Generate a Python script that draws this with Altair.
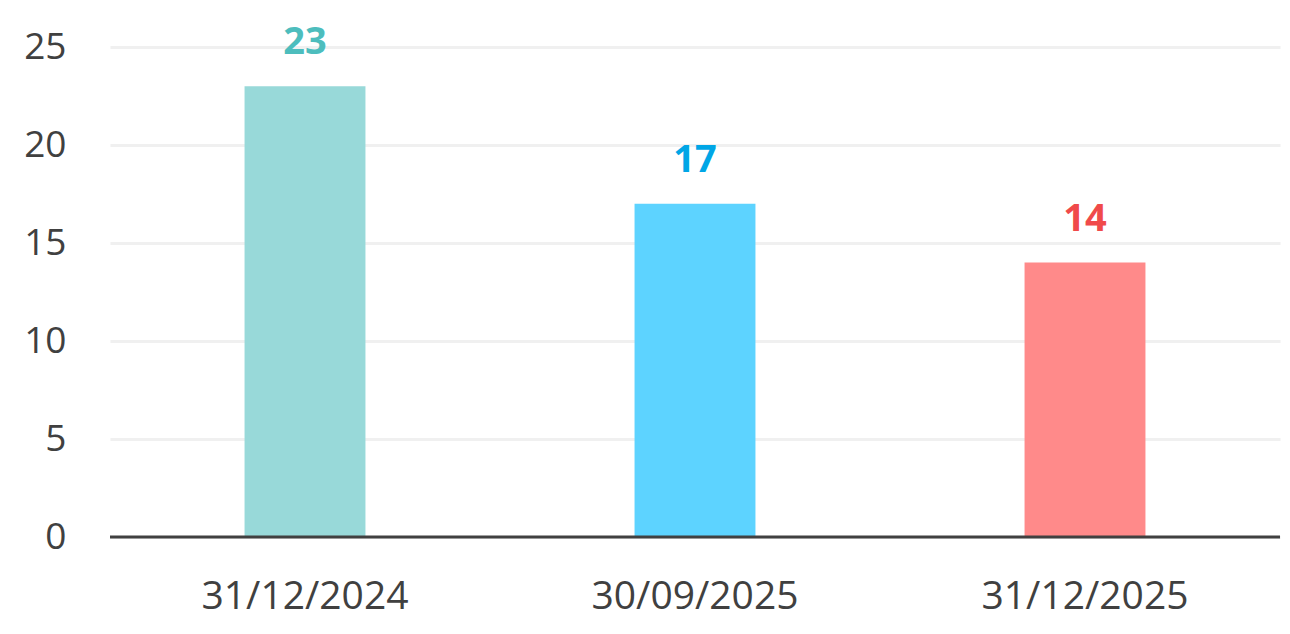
import altair as alt
import pandas as pd

dates = ["31/12/2024", "30/09/2025", "31/12/2025"]
values = [23, 17, 14]
bar_colors = ["#98d9d9", "#5dd3ff", "#ff8a8a"]
label_colors = ["#4dbdbd", "#00a6e6", "#f04a4a"]

df = pd.DataFrame({"date": dates, "value": values, "bar": bar_colors, "lab": label_colors})

x = alt.X("date:N", sort=dates, title=None,
          scale=alt.Scale(paddingInner=0.69, paddingOuter=0.345),
          axis=alt.Axis(labelAngle=0, labelFontSize=39, labelColor="#404040", labelFont="Open Sans",
                        labelPadding=40, labelLimit=0, ticks=False, domain=False))
y = alt.Y("value:Q", title=None, scale=alt.Scale(domain=[0, 25], nice=False),
          axis=alt.Axis(values=[0, 5, 10, 15, 20, 25], labelFontSize=37, labelColor="#404040",
                        labelFont="Open Sans", labelPadding=44, ticks=False, domain=False,
                        gridColor="#f0f0f0", gridWidth=3))

base = alt.Chart(df)
bars = base.mark_bar().encode(x=x, y=y, color=alt.Color("bar:N", scale=None))
text = base.mark_text(baseline="bottom", dy=-24, fontSize=38, fontWeight="bold", font="Open Sans").encode(
    x=alt.X("date:N", sort=dates), y="value:Q", text="value:Q", color=alt.Color("lab:N", scale=None))
rule = alt.Chart(pd.DataFrame({"v": [0]})).mark_rule(color="#404040", strokeWidth=3).encode(y="v:Q")

chart = alt.layer(bars, rule, text).properties(
    width=1170, height=490,
    autosize=alt.AutoSizeParams(type="none"),
    padding={"left": 102, "top": 39, "right": 2, "bottom": 86},
).configure_view(stroke=None)

chart.save("out.html", embed_options={"renderer": "svg", "actions": False})
